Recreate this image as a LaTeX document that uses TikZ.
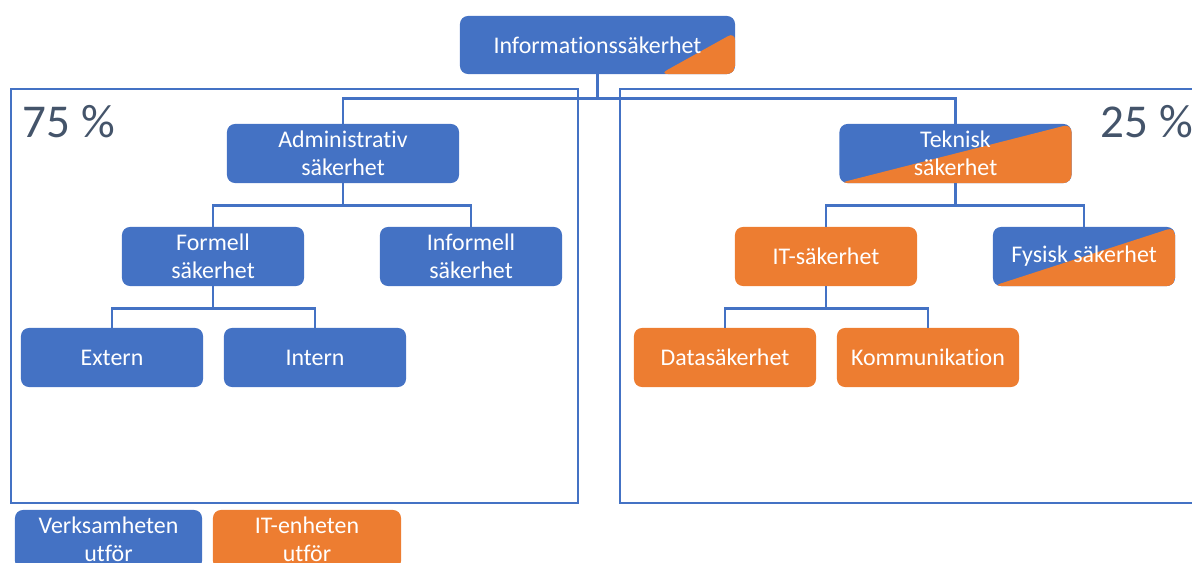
\documentclass[tikz,border=0pt]{standalone}
\usepackage{fontspec}
\setmainfont{Carlito}[Ligatures=NoCommon]
\usetikzlibrary{calc}

\definecolor{itblue}{HTML}{4472C4}
\definecolor{itorange}{HTML}{ED7D31}
\definecolor{pctext}{HTML}{44546A}

\begin{document}
\begin{tikzpicture}[x=0.025cm, y=-0.025cm,
  box/.style={rounded corners=0.2cm, fill=itblue, text=white, align=center,
    minimum width=4.55cm, minimum height=1.475cm, inner sep=0pt,
    font=\fontsize{17}{20}\selectfont},
  orangebox/.style={box, fill=itorange},
  split/.style={box, path picture={
    \fill[itorange] (path picture bounding box.south west)
      -- (path picture bounding box.north east)
      -- (path picture bounding box.south east) -- cycle;}},
  corner/.style={box, path picture={
    \fill[itorange] ($(path picture bounding box.south east)!0.273!(path picture bounding box.south west)$)
      -- ($(path picture bounding box.south east)!0.72!(path picture bounding box.north east)$)
      -- (path picture bounding box.south east) -- cycle;}},
  conn/.style={draw=itblue, line width=2.1pt},
  frame/.style={draw=itblue, line width=0.8pt},
  share/.style={text=pctext, anchor=west, font=\fontsize{33.5}{36}\selectfont}]

\clip (0,0) rectangle (1192,563);

% the two halves
\draw[frame] (11,89) rectangle (578,503);
\draw[frame] (620,89) rectangle (1200,503);
\node[share] (pcleft) at (18,122) {75 \%};
\node[share] (pcright) at (1096,122) {25 \%};

% tree
\node[corner, minimum width=6.875cm, minimum height=1.45cm] (top) at (597.5,45) {Informationssäkerhet};

\node[box, minimum width=5.8cm] (admin) at (343,153.5) {Administrativ\\säkerhet};
\node[split, minimum width=5.8cm] (tek) at (955.5,153.5) {Teknisk\\säkerhet};

\node[box] (formell) at (213,256.5) {Formell\\säkerhet};
\node[box] (informell) at (471,256.5) {Informell\\säkerhet};
\node[orangebox] (itsak) at (826,256.5) {IT-säkerhet};
\node[split] (fysisk) at (1084,256.5) {Fysisk säkerhet};

\node[box] (extern) at (112,357.5) {Extern};
\node[box] (intern) at (315,357.5) {Intern};
\node[orangebox] (data) at (725,357.5) {Datasäkerhet};
\node[orangebox] (komm) at (928,357.5) {Kommunikation};

% legend
\node[box, minimum width=4.675cm] (verk) at (108.5,539.5) {Verksamheten\\utför};
\node[orangebox, minimum width=4.7cm] (itenh) at (307,539.5) {IT-enheten\\utför};

% connectors
\draw[conn] (top.south) -- ++(0,24) -| (admin.north);
\draw[conn] (top.south) -- ++(0,24) -| (tek.north);
\draw[conn] (admin.south) -- ++(0,22) -| (formell.north);
\draw[conn] (admin.south) -- ++(0,22) -| (informell.north);
\draw[conn] (formell.south) -- ++(0,22) -| (extern.north);
\draw[conn] (formell.south) -- ++(0,22) -| (intern.north);
\draw[conn] (tek.south) -- ++(0,22) -| (itsak.north);
\draw[conn] (tek.south) -- ++(0,22) -| (fysisk.north);
\draw[conn] (itsak.south) -- ++(0,22) -| (data.north);
\draw[conn] (itsak.south) -- ++(0,22) -| (komm.north);
\end{tikzpicture}
\end{document}
